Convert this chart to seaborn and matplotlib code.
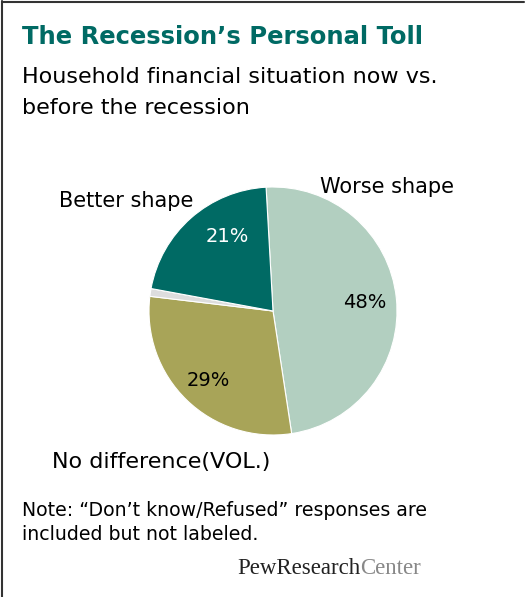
import matplotlib
matplotlib.use("Agg")
import matplotlib.pyplot as plt
import seaborn as sns
from matplotlib.lines import Line2D

sns.set_theme(style="white")
plt.rcParams['font.family'] = ['DejaVu Sans']

categories = ["Worse shape", "No difference(VOL.)", "Don't know/Refused", "Better shape"]
values = [48, 29, 1, 21]
pct_labels = ["48%", "29%", "", "21%"]
colors = ["#b2cfc0", "#a8a458", "#dddddd", "#006a64"]

W, H = 526, 597
fig = plt.figure(figsize=(W / 100, H / 100), dpi=100)
fig.patch.set_facecolor("white")

def fx(x):
    return x / W

def fy(y):
    return 1 - y / H

# pie axes: center (273, 311), radius 124 px
cx, cy, r = 273, 311, 124
ax = fig.add_axes([fx(cx - r), fy(cy + r), 2 * r / W, 2 * r / H])
wedges, _ = ax.pie(values, colors=colors, startangle=93.2, counterclock=False,
                   wedgeprops=dict(edgecolor="white", linewidth=0.8), radius=1)
ax.set_xlim(-1, 1)
ax.set_ylim(-1, 1)
ax.set_aspect("auto")
ax.axis("off")

# percent labels inside
pct_pos = {"48%": (365, 302), "29%": (208, 381), "21%": (227, 236)}
pct_color = {"48%": "black", "29%": "black", "21%": "white"}
for lab in pct_labels:
    if lab:
        x, y = pct_pos[lab]
        fig.text(fx(x), fy(y), lab, ha="center", va="center", fontsize=14,
                 color=pct_color[lab])

# outer category labels
fig.text(fx(320), fy(187), categories[0], ha="left", va="center", fontsize=15, color="black")
fig.text(fx(193), fy(201), categories[3], ha="right", va="center", fontsize=15, color="black")
fig.text(fx(52), fy(462), categories[1], ha="left", va="center", fontsize=16, color="black")

# title and subtitle
fig.text(fx(22), fy(37), "The Recession’s Personal Toll", ha="left", va="center",
         fontsize=17.5, fontweight="bold", color="#006a64")
fig.text(fx(22), fy(77), "Household financial situation now vs.", ha="left", va="center",
         fontsize=16, color="black")
fig.text(fx(22), fy(108), "before the recession", ha="left", va="center",
         fontsize=16, color="black")

# note
fig.text(fx(22), fy(510), "Note: “Don’t know/Refused” responses are", ha="left", va="center",
         fontsize=13.6, color="black")
fig.text(fx(22), fy(535), "included but not labeled.", ha="left", va="center",
         fontsize=13.6, color="black")

# logo
t1 = fig.text(fx(237), fy(568), "PewResearch", ha="left", va="center", fontsize=16.5,
              family="Liberation Serif", color="#222222")
fig.canvas.draw()
bb = t1.get_window_extent()
fig.text(bb.x1 / W, fy(568), "Center", ha="left", va="center", fontsize=16.5,
         family="Liberation Serif", color="#888888")

# border lines
fig.add_artist(Line2D([fx(2), fx(2)], [0, fy(1)], color="#333333", linewidth=1.5))
fig.add_artist(Line2D([fx(2), fx(524)], [fy(1.5), fy(1.5)], color="#333333", linewidth=1.5))

fig.savefig("out.png", dpi=100, facecolor="white")
